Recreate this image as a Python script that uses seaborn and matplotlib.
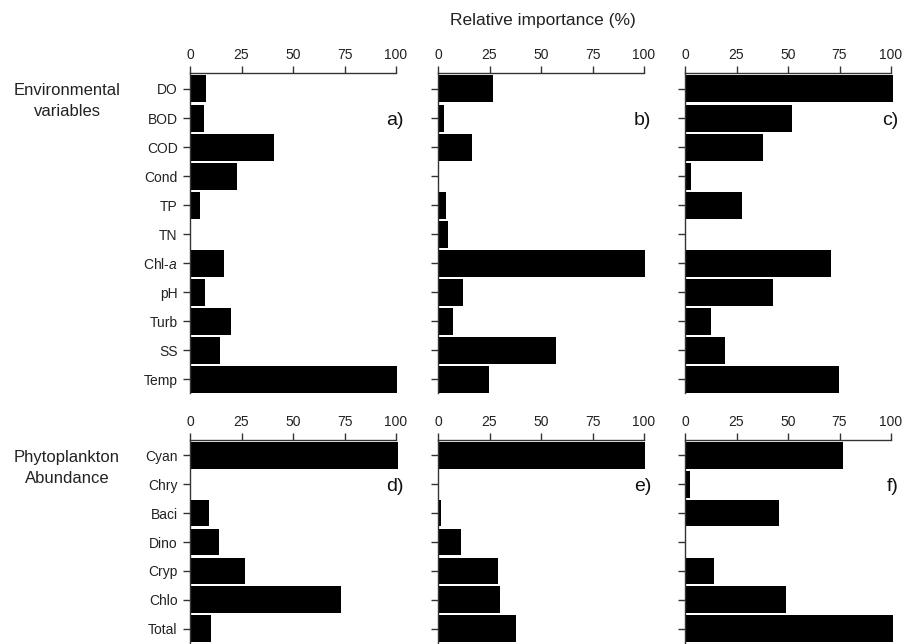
import matplotlib
matplotlib.use('Agg')
from matplotlib import pyplot as plt
import seaborn as sns

sns.set_style('white')
plt.rcParams['font.family'] = ['Liberation Sans', 'DejaVu Sans']
plt.rcParams['mathtext.fontset'] = 'custom'
plt.rcParams['mathtext.rm'] = 'Liberation Sans'
plt.rcParams['mathtext.it'] = 'Liberation Sans:italic'

env_vars = ['DO', 'BOD', 'COD', 'Cond', 'TP', 'TN', r'Chl-$\it{a}$', 'pH', 'Turb', 'SS', 'Temp']
env_a = [7.6, 6.6, 40.7, 22.9, 5.0, 0, 16.4, 7.3, 20.1, 14.6, 100.3]
env_b = [26.7, 2.9, 16.5, 0, 4.0, 4.7, 100.3, 12.1, 7.3, 57.3, 24.6]
env_c = [100.8, 51.9, 37.9, 2.9, 27.8, 0, 70.7, 42.7, 12.6, 19.6, 74.9]

phyto = ['Cyan', 'Chry', 'Baci', 'Dino', 'Cryp', 'Chlo', 'Total']
phy_d = [100.8, 0, 9.2, 14.1, 26.6, 73.4, 10.4]
phy_e = [100.3, 0, 1.5, 11.0, 29.3, 29.9, 37.9]
phy_f = [76.5, 2.4, 45.5, 0, 14.2, 49.2, 100.8]

panel_tags = ['a)', 'b)', 'c)', 'd)', 'e)', 'f)']
xticks = [0, 25, 50, 75, 100]

W, H = 908, 644
fig = plt.figure(figsize=(W / 100, H / 100), dpi=100)

lefts = [190, 438, 685]
unit = 206 / 100  # px per percent
xmax = 102

rows = [
    (env_vars, [env_a, env_b, env_c], 73, 393, (10.47, -0.55)),
    (phyto, [phy_d, phy_e, phy_f], 440, 644, (6.52, -0.52)),
]

k = 0
for labels, series, top, bottom, ylim in rows:
    for j, vals in enumerate(series):
        ax = fig.add_axes([lefts[j] / W, 1 - bottom / H, unit * xmax / W, (bottom - top) / H])
        sns.barplot(x=vals, y=labels, color='black', width=0.93, saturation=1,
                    edgecolor='black', linewidth=0, ax=ax)
        ax.set_xlim(0, xmax)
        ax.set_ylim(*ylim)
        ax.xaxis.tick_top()
        ax.set_xticks(xticks)
        ax.spines['right'].set_visible(False)
        ax.spines['bottom'].set_visible(False)
        ax.spines['top'].set_bounds(0, 100)
        for s in ['top', 'left']:
            ax.spines[s].set_color('#333333')
            ax.spines[s].set_linewidth(1.0)
        ax.tick_params(axis='x', top=True, direction='out', length=5, width=1,
                       color='#333333', pad=3, labelsize=10, labelcolor='#222222')
        ax.tick_params(axis='y', left=True, direction='out', length=5, width=1,
                       color='#333333', pad=4, labelsize=10, labelcolor='#222222')
        ax.set_xlabel('')
        ax.set_ylabel('')
        if j > 0:
            ax.set_yticklabels([])
        ax.text(103.5, 1.1, panel_tags[k], ha='right', va='center', fontsize=14,
                color='#111111')
        k += 1

fig.text(67 / W, 1 - 101 / H, 'Environmental\nvariables', ha='center', va='center',
         fontsize=12, linespacing=1.45, color='#222222')
fig.text(67 / W, 1 - 468 / H, 'Phytoplankton\nAbundance', ha='center', va='center',
         fontsize=12, linespacing=1.45, color='#222222')
fig.text(543 / W, 1 - 21 / H, 'Relative importance (%)', ha='center', va='center',
         fontsize=12.5, color='#222222')

fig.savefig('out.png', dpi=100, facecolor='white')
